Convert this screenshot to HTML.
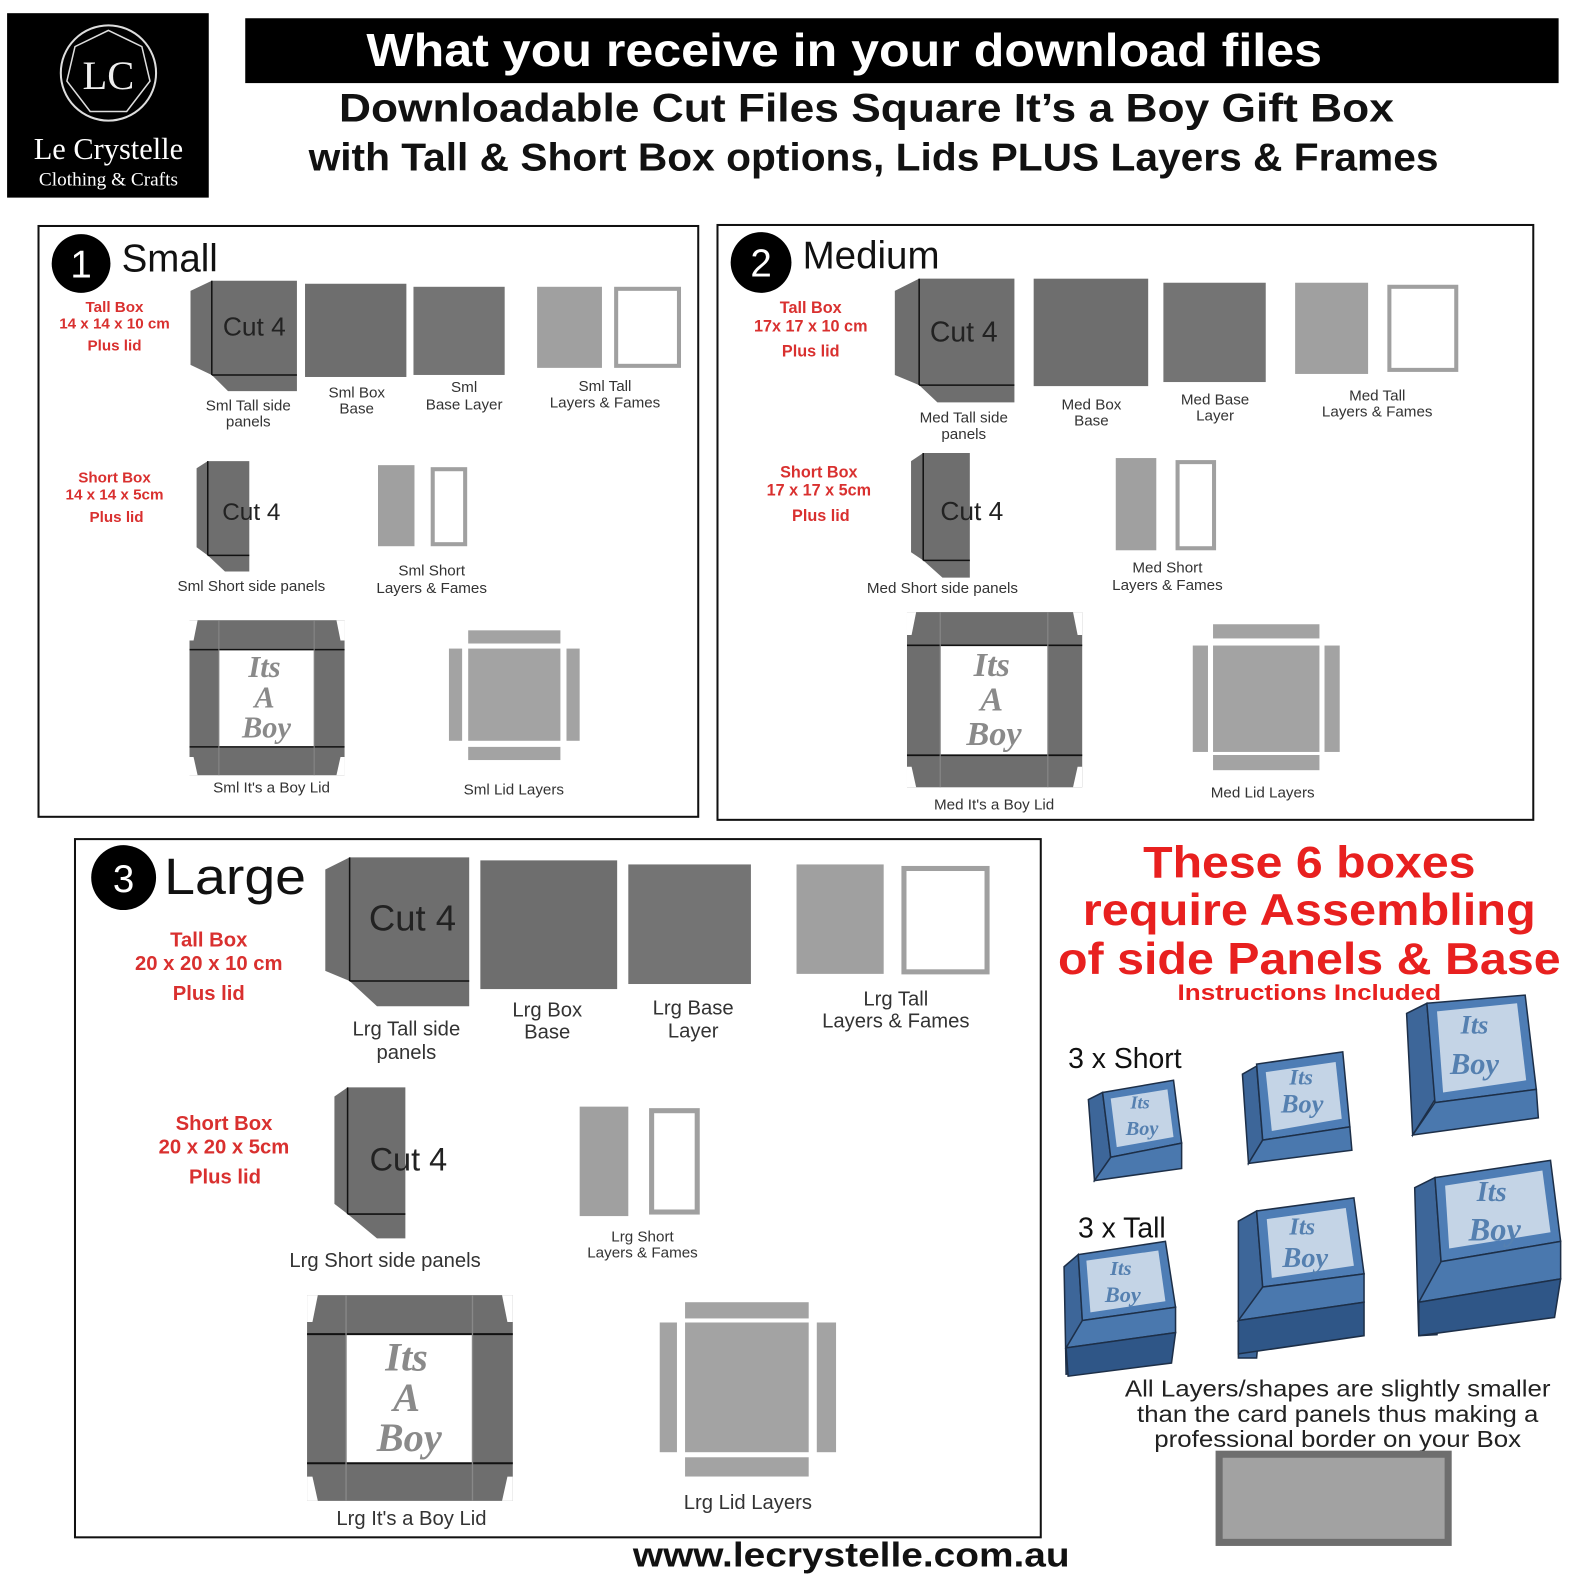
<!DOCTYPE html>
<html><head><meta charset="utf-8"><style>html,body{margin:0;padding:0;background:#fff}svg{display:block}</style></head>
<body>
<svg width="1588" height="1588" viewBox="0 0 1567 1567" xmlns="http://www.w3.org/2000/svg" font-family="Liberation Sans, Arial, sans-serif">
<defs>
<g id="lid">
<rect x="0" y="0" width="153" height="153" fill="#6e6e6e"/>
<polygon points="0,0 8,0 4,20 0,20" fill="#fff"/>
<polygon points="153,0 145,0 149,20 153,20" fill="#fff"/>
<polygon points="0,153 8,153 4,135 0,135" fill="#fff"/>
<polygon points="153,153 145,153 149,135 153,135" fill="#fff"/>
<rect x="29" y="29" width="94" height="96" fill="#fff"/>
<line x1="0" y1="29" x2="153" y2="29" stroke="#111" stroke-width="1.5"/>
<line x1="0" y1="125" x2="153" y2="125" stroke="#111" stroke-width="1.5"/>
<line x1="29" y1="0" x2="29" y2="153" stroke="#888" stroke-width="1"/>
<line x1="123" y1="0" x2="123" y2="153" stroke="#888" stroke-width="1"/>
</g>
</defs>
<rect width="1567" height="1567" fill="#fff"/>
<!-- logo -->
<rect x="7" y="13" width="199" height="182" fill="#000"/>
<circle cx="107" cy="72" r="47" fill="none" stroke="#ddd" stroke-width="2"/>
<polygon points="107,30 140,46 148,80 125,110 89,110 66,80 74,46" fill="none" stroke="#ddd" stroke-width="1.5"/>
<text x="107" y="88" font-family="Liberation Serif, serif" font-size="40" fill="#eee" text-anchor="middle">LC</text>
<text x="107" y="157" font-family="Liberation Serif, serif" font-size="30" fill="#fff" text-anchor="middle">Le Crystelle</text>
<text x="107" y="183" font-family="Liberation Serif, serif" font-size="19" fill="#fff" text-anchor="middle">Clothing &amp; Crafts</text>
<!-- header -->
<rect x="242" y="18" width="1296" height="64" fill="#000"/>
<text x="833" y="65" font-size="46" font-weight="bold" fill="#fff" text-anchor="middle" textLength="943" lengthAdjust="spacingAndGlyphs">What you receive in your download files</text>
<text x="855" y="120" font-size="39" font-weight="bold" fill="#111" text-anchor="middle" textLength="1041" lengthAdjust="spacingAndGlyphs">Downloadable Cut Files Square It’s a Boy Gift Box</text>
<text x="862" y="168" font-size="38" font-weight="bold" fill="#111" text-anchor="middle" textLength="1115" lengthAdjust="spacingAndGlyphs">with Tall &amp; Short Box options, Lids PLUS Layers &amp; Frames</text>

<!-- PANEL 1 -->
<rect x="38" y="223" width="651" height="583" fill="none" stroke="#111" stroke-width="2"/>
<circle cx="80" cy="260" r="29" fill="#000"/>
<text x="80" y="274" font-size="38" fill="#fff" text-anchor="middle">1</text>
<text x="120" y="268" font-size="38" fill="#111">Small</text>
<g font-size="15" font-weight="bold" fill="#d9302f" text-anchor="middle">
<text x="113" y="308">Tall Box</text><text x="113" y="324">14 x 14 x 10 cm</text><text x="113" y="346">Plus lid</text>
<text x="113" y="476">Short Box</text><text x="113" y="493">14 x 14 x 5cm</text><text x="115" y="515">Plus lid</text>
</g>
<polygon points="188,287 209,277 293,277 293,386 225,386 209,370 188,360" fill="#6e6e6e"/>
<line x1="209" y1="277" x2="209" y2="370" stroke="#111" stroke-width="1.5"/>
<line x1="209" y1="370" x2="293" y2="370" stroke="#111" stroke-width="1.5"/>
<text x="251" y="331" font-size="26" fill="#222" text-anchor="middle">Cut 4</text>
<rect x="301" y="280" width="100" height="92" fill="#6e6e6e"/>
<rect x="408" y="283" width="90" height="87" fill="#747474"/>
<rect x="530" y="283" width="64" height="80" fill="#a0a0a0"/>
<rect x="608" y="285" width="62" height="76" fill="#fff" stroke="#a0a0a0" stroke-width="4"/>
<g font-size="15" fill="#333" text-anchor="middle">
<text x="245" y="405">Sml Tall side</text><text x="245" y="421">panels</text>
<text x="352" y="392">Sml Box</text><text x="352" y="408">Base</text>
<text x="458" y="387">Sml</text><text x="458" y="404">Base Layer</text>
<text x="597" y="386">Sml Tall</text><text x="597" y="402">Layers &amp; Fames</text>
<text x="248" y="583">Sml Short side panels</text>
<text x="426" y="568">Sml Short</text><text x="426" y="585">Layers &amp; Fames</text>
<text x="268" y="782">Sml It's a Boy Lid</text>
<text x="507" y="784">Sml Lid Layers</text>
</g>
<polygon points="194,462 205,455 246,455 246,564 222,564 205,548 194,540" fill="#6e6e6e"/>
<line x1="205" y1="455" x2="205" y2="548" stroke="#111" stroke-width="1.5"/>
<line x1="205" y1="548" x2="246" y2="548" stroke="#111" stroke-width="1.5"/>
<text x="248" y="513" font-size="24" fill="#222" text-anchor="middle">Cut 4</text>
<rect x="373" y="459" width="36" height="80" fill="#a0a0a0"/>
<rect x="427" y="463" width="32" height="74" fill="#fff" stroke="#a0a0a0" stroke-width="4"/>
<g transform="translate(187,612)">
<use href="#lid"/>
<g font-family="Liberation Serif, serif" font-style="italic" font-weight="bold" font-size="30" fill="#8a8a8a" text-anchor="middle">
<text x="74" y="56">Its</text><text x="74" y="86">A</text><text x="76" y="116">Boy</text></g>
</g>
<g fill="#a3a3a3">
<rect x="462" y="640" width="91" height="91"/><rect x="462" y="622" width="91" height="13"/><rect x="462" y="737" width="91" height="13"/>
<rect x="443" y="640" width="13" height="91"/><rect x="559" y="640" width="13" height="91"/></g>

<!-- PANEL 2 -->
<rect x="708" y="222" width="805" height="587" fill="none" stroke="#111" stroke-width="2"/>
<circle cx="751" cy="259" r="30" fill="#000"/>
<text x="751" y="273" font-size="38" fill="#fff" text-anchor="middle">2</text>
<text x="792" y="265" font-size="38" fill="#111">Medium</text>
<g font-size="16" font-weight="bold" fill="#d9302f" text-anchor="middle">
<text x="800" y="309">Tall Box</text><text x="800" y="327">17x 17 x 10 cm</text><text x="800" y="352">Plus lid</text>
<text x="808" y="471">Short Box</text><text x="808" y="489">17 x 17 x 5cm</text><text x="810" y="514">Plus lid</text>
</g>
<polygon points="883,287 907,275 1001,275 1001,397 925,397 907,380 883,370" fill="#6e6e6e"/>
<line x1="907" y1="275" x2="907" y2="380" stroke="#111" stroke-width="1.5"/>
<line x1="907" y1="380" x2="1001" y2="380" stroke="#111" stroke-width="1.5"/>
<text x="951" y="337" font-size="28" fill="#222" text-anchor="middle">Cut 4</text>
<rect x="1020" y="275" width="113" height="106" fill="#6e6e6e"/>
<rect x="1148" y="279" width="101" height="98" fill="#747474"/>
<rect x="1278" y="279" width="72" height="90" fill="#a0a0a0"/>
<rect x="1371" y="283" width="66" height="82" fill="#fff" stroke="#a0a0a0" stroke-width="4"/>
<g font-size="15" fill="#333" text-anchor="middle">
<text x="951" y="417">Med Tall side</text><text x="951" y="433">panels</text>
<text x="1077" y="404">Med Box</text><text x="1077" y="420">Base</text>
<text x="1199" y="399">Med Base</text><text x="1199" y="415">Layer</text>
<text x="1359" y="395">Med Tall</text><text x="1359" y="411">Layers &amp; Fames</text>
<text x="930" y="585">Med Short side panels</text>
<text x="1152" y="565">Med Short</text><text x="1152" y="582">Layers &amp; Fames</text>
<text x="981" y="799">Med It's a Boy Lid</text>
<text x="1246" y="787">Med Lid Layers</text>
</g>
<polygon points="899,455 911,447 957,447 957,570 930,570 911,553 899,545" fill="#6e6e6e"/>
<line x1="911" y1="447" x2="911" y2="553" stroke="#111" stroke-width="1.5"/>
<line x1="911" y1="553" x2="957" y2="553" stroke="#111" stroke-width="1.5"/>
<text x="959" y="513" font-size="26" fill="#222" text-anchor="middle">Cut 4</text>
<rect x="1101" y="452" width="40" height="91" fill="#a0a0a0"/>
<rect x="1162" y="456" width="36" height="85" fill="#fff" stroke="#a0a0a0" stroke-width="4"/>
<g transform="translate(895,604) scale(1.13)">
<use href="#lid"/>
<g font-family="Liberation Serif, serif" font-style="italic" font-weight="bold" font-size="30" fill="#8a8a8a" text-anchor="middle">
<text x="74" y="56">Its</text><text x="74" y="86">A</text><text x="76" y="116">Boy</text></g>
</g>
<g fill="#a3a3a3">
<rect x="1197" y="637" width="105" height="105"/><rect x="1197" y="616" width="105" height="14"/><rect x="1197" y="745" width="105" height="15"/>
<rect x="1177" y="637" width="15" height="105"/><rect x="1307" y="637" width="15" height="105"/></g>

<!-- PANEL 3 -->
<rect x="74" y="828" width="953" height="689" fill="none" stroke="#111" stroke-width="2"/>
<circle cx="122" cy="866" r="32" fill="#000"/>
<text x="122" y="880" font-size="38" fill="#fff" text-anchor="middle">3</text>
<text x="162" y="882" font-size="50" fill="#111" textLength="140" lengthAdjust="spacingAndGlyphs">Large</text>
<g font-size="20" font-weight="bold" fill="#d9302f" text-anchor="middle">
<text x="206" y="934">Tall Box</text><text x="206" y="957">20 x 20 x 10 cm</text><text x="206" y="987">Plus lid</text>
<text x="221" y="1115">Short Box</text><text x="221" y="1138">20 x 20 x 5cm</text><text x="222" y="1168">Plus lid</text>
</g>
<polygon points="321,858 345,846 463,846 463,993 372,993 345,968 321,958" fill="#6e6e6e"/>
<line x1="345" y1="846" x2="345" y2="968" stroke="#111" stroke-width="1.5"/>
<line x1="345" y1="968" x2="463" y2="968" stroke="#111" stroke-width="1.5"/>
<text x="407" y="918" font-size="36" fill="#222" text-anchor="middle">Cut 4</text>
<rect x="474" y="849" width="135" height="127" fill="#6e6e6e"/>
<rect x="620" y="853" width="121" height="118" fill="#747474"/>
<rect x="786" y="853" width="86" height="108" fill="#a0a0a0"/>
<rect x="892" y="857" width="82" height="102" fill="#fff" stroke="#a0a0a0" stroke-width="5"/>
<g font-size="20" fill="#333" text-anchor="middle">
<text x="401" y="1022">Lrg Tall side</text><text x="401" y="1045">panels</text>
<text x="540" y="1003">Lrg Box</text><text x="540" y="1025">Base</text>
<text x="684" y="1001">Lrg Base</text><text x="684" y="1024">Layer</text>
<text x="884" y="992">Lrg Tall</text><text x="884" y="1014">Layers &amp; Fames</text>
<text x="380" y="1250">Lrg Short side panels</text>
<text x="406" y="1505">Lrg It's a Boy Lid</text>
<text x="738" y="1489">Lrg Lid Layers</text>
</g>
<g font-size="15" fill="#333" text-anchor="middle"><text x="634" y="1225">Lrg Short</text><text x="634" y="1241">Layers &amp; Fames</text></g>
<polygon points="330,1082 343,1073 400,1073 400,1222 372,1222 343,1198 330,1188" fill="#6e6e6e"/>
<line x1="343" y1="1073" x2="343" y2="1198" stroke="#111" stroke-width="1.5"/>
<line x1="343" y1="1198" x2="400" y2="1198" stroke="#111" stroke-width="1.5"/>
<text x="403" y="1155" font-size="32" fill="#222" text-anchor="middle">Cut 4</text>
<rect x="572" y="1092" width="48" height="108" fill="#a0a0a0"/>
<rect x="643" y="1096" width="45" height="100" fill="#fff" stroke="#a0a0a0" stroke-width="5"/>
<g transform="translate(303,1278) scale(1.327)">
<use href="#lid"/>
<g font-family="Liberation Serif, serif" font-style="italic" font-weight="bold" font-size="30" fill="#8a8a8a" text-anchor="middle">
<text x="74" y="56">Its</text><text x="74" y="86">A</text><text x="76" y="116">Boy</text></g>
</g>
<g fill="#a3a3a3">
<rect x="676" y="1305" width="122" height="128"/><rect x="676" y="1285" width="122" height="16"/><rect x="676" y="1438" width="122" height="19"/>
<rect x="651" y="1305" width="17" height="128"/><rect x="806" y="1305" width="19" height="128"/></g>

<!-- right side -->
<g font-weight="bold" fill="#e8201f" text-anchor="middle">
<text x="1292" y="866" font-size="44" textLength="328" lengthAdjust="spacingAndGlyphs">These 6 boxes</text>
<text x="1292" y="913" font-size="44" textLength="447" lengthAdjust="spacingAndGlyphs">require Assembling</text>
<text x="1292" y="961" font-size="44" textLength="496" lengthAdjust="spacingAndGlyphs">of side Panels &amp; Base</text>
<text x="1292" y="987" font-size="22" textLength="260" lengthAdjust="spacingAndGlyphs">Instructions Included</text>
</g>
<text x="1110" y="1054" font-size="28" fill="#111" text-anchor="middle">3 x Short</text>
<text x="1107" y="1221" font-size="28" fill="#111" text-anchor="middle">3 x Tall</text>

<g stroke="#1d2f48" stroke-width="1.5" font-family="Liberation Serif, serif" font-style="italic" font-weight="bold" text-anchor="middle">
<polygon points="1074,1085 1088,1078 1096,1142 1080,1165" fill="#3d6699"/>
<polygon points="1088,1078 1158,1066 1166,1128 1096,1142" fill="#4e7db5"/>
<polygon points="1096,1084 1152,1075 1158,1122 1102,1132" fill="#c4d4e6" stroke="none"/>
<polygon points="1096,1142 1166,1128 1166,1153 1080,1165" fill="#4a78ae"/>
<text x="1127" y="1120" font-size="20" fill="#5580b0" stroke="none">Boy</text>
<text x="1125" y="1094" font-size="18" fill="#5580b0" stroke="none">Its</text>
<polygon points="1226,1060 1240,1052 1246,1125 1232,1148" fill="#3d6699"/>
<polygon points="1240,1050 1325,1038 1332,1112 1246,1125" fill="#4e7db5"/>
<polygon points="1249,1058 1318,1048 1324,1104 1255,1116" fill="#c4d4e6" stroke="none"/>
<polygon points="1246,1125 1332,1112 1334,1135 1232,1148" fill="#4a78ae"/>
<text x="1284" y="1070" font-size="22" fill="#5580b0" stroke="none">Its</text>
<text x="1285" y="1098" font-size="26" fill="#5580b0" stroke="none">Boy</text>
<polygon points="1388,1000 1408,990 1416,1085 1394,1120" fill="#3d6699"/>
<polygon points="1408,990 1505,982 1516,1075 1416,1088" fill="#4e7db5"/>
<polygon points="1418,998 1497,990 1506,1066 1424,1078" fill="#c4d4e6" stroke="none"/>
<polygon points="1416,1088 1516,1075 1518,1103 1394,1120" fill="#4a78ae"/>
<text x="1455" y="1020" font-size="26" fill="#5580b0" stroke="none">Its</text>
<text x="1455" y="1060" font-size="30" fill="#5580b0" stroke="none">Boy</text>
<polygon points="1050,1250 1064,1238 1068,1303 1064,1355 1052,1356" fill="#3d6699"/>
<polygon points="1064,1238 1150,1225 1160,1290 1068,1303" fill="#4e7db5"/>
<polygon points="1072,1244 1143,1234 1150,1284 1076,1295" fill="#c4d4e6" stroke="none"/>
<polygon points="1068,1303 1160,1290 1160,1315 1052,1330" fill="#4a78ae"/>
<polygon points="1052,1330 1160,1315 1156,1345 1054,1358" fill="#2f5687"/>
<text x="1106" y="1258" font-size="20" fill="#5580b0" stroke="none">Its</text>
<text x="1108" y="1285" font-size="22" fill="#5580b0" stroke="none">Boy</text>
<polygon points="1222,1205 1240,1195 1246,1270 1240,1340 1222,1340" fill="#3d6699"/>
<polygon points="1240,1195 1336,1182 1346,1257 1246,1270" fill="#4e7db5"/>
<polygon points="1250,1203 1328,1192 1336,1249 1255,1261" fill="#c4d4e6" stroke="none"/>
<polygon points="1246,1270 1346,1257 1346,1285 1222,1303" fill="#4a78ae"/>
<polygon points="1222,1303 1346,1285 1346,1318 1222,1336" fill="#2f5687"/>
<text x="1285" y="1218" font-size="24" fill="#5580b0" stroke="none">Its</text>
<text x="1288" y="1250" font-size="28" fill="#5580b0" stroke="none">Boy</text>
<polygon points="1396,1172 1416,1162 1422,1245 1418,1317 1400,1318" fill="#3d6699"/>
<polygon points="1416,1162 1530,1145 1540,1225 1422,1245" fill="#4e7db5"/>
<polygon points="1426,1170 1522,1155 1530,1216 1430,1232" fill="#c4d4e6" stroke="none"/>
<polygon points="1422,1245 1540,1225 1540,1262 1400,1285" fill="#4a78ae"/>
<polygon points="1400,1285 1540,1262 1534,1300 1400,1318" fill="#2f5687"/>
<text x="1472" y="1185" font-size="28" fill="#5580b0" stroke="none">Its</text>
<text x="1475" y="1224" font-size="32" fill="#5580b0" stroke="none">Boy</text>
</g>
<g font-size="23" fill="#222" text-anchor="middle">
<text x="1320" y="1378" textLength="420" lengthAdjust="spacingAndGlyphs">All Layers/shapes are slightly smaller</text>
<text x="1320" y="1403" textLength="396" lengthAdjust="spacingAndGlyphs">than the card panels thus making a</text>
<text x="1320" y="1428" textLength="362" lengthAdjust="spacingAndGlyphs">professional border on your Box</text>
</g>
<rect x="1203" y="1435" width="226" height="87" fill="#a2a2a2" stroke="#6e6e6e" stroke-width="7"/>
<text x="840" y="1546" font-size="34" font-weight="bold" fill="#111" text-anchor="middle" textLength="431" lengthAdjust="spacingAndGlyphs">www.lecrystelle.com.au</text>
</svg>
</body></html>
